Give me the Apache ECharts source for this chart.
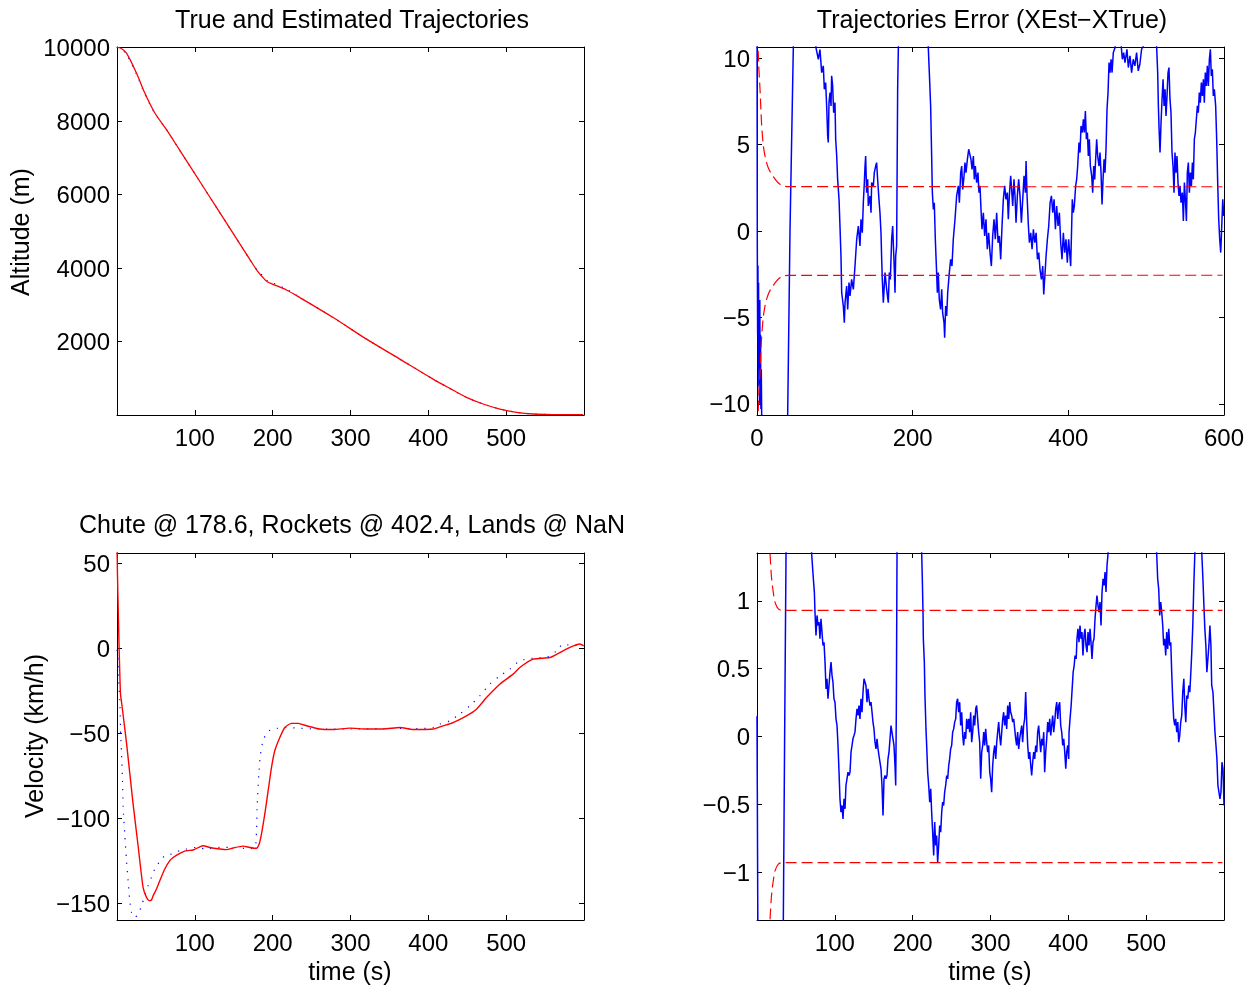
<!DOCTYPE html>
<html>
<head>
<meta charset="utf-8">
<title>Trajectory estimation</title>
<script src="https://cdn.jsdelivr.net/npm/echarts@6/dist/echarts.min.js"></script>
<style>
  html, body { margin: 0; padding: 0; background: #fff; }
  #chart { width: 1256px; height: 988px; }
</style>
</head>
<body>
<div id="chart"></div>
<script>
// ---- Altitude: true vs. estimated (m) ----
var timeAlt = [0, 5, 12.2, 25, 35.7, 48.6, 63.6, 80.7, 106.4, 127.8, 149.2, 170.6, 180, 187.7, 193, 200.6, 217.8, 234.9, 277.7, 320.6, 363.4, 406.1, 427.6, 449, 470.4, 491.8, 513.3, 534.6, 560, 599];
var altEst  = [10000, 9975, 9843, 9301, 8758, 8215, 7762, 7198, 6351, 5645, 4940, 4234, 3930, 3737, 3625, 3555, 3401, 3194, 2651, 2063, 1520, 977, 724, 480, 299, 163, 73, 27, 12, 8];
var altTrue = [10000, 9970, 9815, 9270, 8730, 8205, 7760, 7196, 6351, 5645, 4940, 4234, 3935, 3780, 3660, 3590, 3420, 3200, 2651, 2063, 1520, 977, 724, 480, 299, 163, 73, 27, 12, 8];

// ---- Velocity: estimated (solid) and true (dotted), km/h ----
var timeVelEst = [0, 0.6, 1.5, 2.3, 2.7, 3.6, 4.5, 6.2, 7.9, 12.4, 20.7, 27.1, 33.5, 37.9, 41.3, 44.3, 46.4, 50.7, 55, 61.4, 67.8, 72.1, 80.7, 89.3, 97.8, 106.4, 110.7, 119.2, 132.1, 140.7, 149.2, 162, 170.6, 179.2, 182.6, 185.6, 189.9, 194.2, 198.5, 202.7, 209.2, 215.6, 224.2, 232.8, 243.5, 260.6, 277.7, 299.1, 320.6, 341.9, 363.4, 380.4, 406.1, 419, 431.8, 449, 461.9, 474.7, 491.8, 508.9, 517.5, 534.6, 556.1, 568.9, 581.8, 594.6, 599.7];
var velEst = [62, 43.5, 23.9, 8.2, 0.4, -15.3, -27, -33, -39.5, -56.5, -91.8, -116.3, -140.8, -146.7, -148.6, -148.2, -145.7, -141.8, -136.9, -130, -125.1, -123.2, -120.8, -119.2, -118.8, -116.9, -116.3, -117.3, -118.2, -118.6, -117.6, -116.5, -117.3, -117.8, -115.3, -109.4, -97.6, -83.9, -70.2, -60.4, -52.6, -46.7, -44.3, -44.3, -45.7, -47.6, -47.9, -47.1, -47.6, -47.6, -46.7, -47.9, -47.6, -45.7, -43.8, -39.8, -35.9, -29.1, -21.2, -15.3, -11.4, -6.5, -5.5, -2.6, 0.4, 2.4, 1.4];
var timeVelTrue = [0, 1.5, 2.3, 3.6, 4.5, 5.8, 7.1, 7.9, 10, 12.2, 14.3, 16.4, 18.6, 22.9, 27.1, 31.5, 35.7, 40, 44.3, 48.6, 55, 61.4, 70, 80.7, 89.3, 102.1, 115, 132.1, 149.2, 166.4, 177, 179.2, 180, 182.2, 184.4, 187.7, 194.2, 204.9, 217.8, 234.9, 256.3, 299.1, 341.9, 384.8, 406.1, 414.7, 427.6, 440.4, 453.3, 466.1, 479, 491.8, 504.7, 517.5, 534.6, 551.8, 564.7, 573.2, 586, 599.7];
var velTrue = [-1, -7.5, -19.2, -31, -46.7, -62.4, -78, -93.8, -109.4, -125.1, -136.9, -148.6, -155.5, -158.5, -156.5, -151.6, -145.7, -139.8, -134.9, -130, -125.5, -122.2, -121.2, -119.2, -118.2, -117.3, -118.2, -117.3, -117.3, -117.9, -117.3, -107.5, -93.8, -74.1, -62.4, -54.5, -49, -47.3, -46.7, -47.1, -47.6, -47.6, -47.3, -47.3, -46.7, -44.7, -42.8, -38.8, -33.9, -28.1, -21.2, -16.3, -12.4, -7.5, -5.9, -5.5, -1.6, 2.4, 1.4, 2.4];

// ---- Position error (XEst - XTrue) and its sigma bound ----
var posErrT = [0, 0.4, 0.8, 1.2, 1.6, 2.0, 2.4, 2.8, 3.2, 3.6, 4.0, 4.5, 5.0, 5.5, 6.0, 6.8, 20, 35, 39.4, 42.4, 46.7, 50, 65, 74,
  75.8, 78.8, 80.9, 83.1, 85.2, 86.5, 88.2, 89.5, 90.8, 91.6, 92.5, 93.8, 95.1, 95.9, 97.2, 98.5, 100.2, 101.1, 102.4, 103.6, 105.4, 106.6, 107.9, 108.8, 110.9, 112.2, 113.1, 115.2, 116.5, 118.2, 119.5, 121.6, 123.8, 125.9, 128.1, 130.2, 132.3, 133.6, 135.3, 136.6, 137.9, 138.8, 139.6, 140.9, 142.2, 143, 145.2, 146.5, 147.3, 149.5, 150.7, 152.5, 153.7, 155, 156.7, 158, 159.3, 160.2, 161, 162.3, 164.5, 166.6, 168.7, 170, 171.3, 173, 174.3, 175.6, 176.4, 177.3, 178.2, 179.4, 180.7, 181.6,
  183, 200, 218,
  220.1, 221.4, 223.1, 224.4, 225.3, 226.6, 227.8, 229.1, 230.8, 231.7, 232.9, 234.2, 235.9, 237.3, 238.5, 240.3, 241.1, 242.4, 243.7, 245, 247.1, 248.8, 250.5, 252.2, 254.4, 256.5, 258.7, 260, 261.7, 263, 264.3, 266, 267.2, 268.5, 270.3, 272, 273.7, 274.9, 276.3, 278, 279.2, 280.5, 282.2, 283.9, 285.2, 286.5, 287.8, 289.1, 290.8, 292.5, 294.2, 295.9, 297.6, 299.4, 301.1, 302.8, 304.5, 306.2, 307.9, 309.7, 311.4, 313.1, 314.8, 316.5, 318.2, 319.9, 321.6, 322.9, 324.2, 325.9, 327.2, 328.5, 330.2, 331.5, 332.8, 334.5, 336.2, 337.9, 339.7, 341.4, 343.1, 344.8, 345.7, 347, 348.7, 350, 351.7, 353.4, 355.1, 356.9, 358.6, 360.3, 362, 363.6, 365.4, 367.1, 368.4, 370.1, 371.4, 373.1, 374.8, 376.6, 378.3, 380, 381.7, 383.4, 385, 386.8, 388.5, 390.2, 391.9, 393.6, 395.3, 397, 398.7, 400.4,
  401.7, 403, 404.3, 405.1, 406.4, 407.7, 409.4, 410.7, 412, 413.7, 415, 416.3, 418, 419.3, 420.6, 421.9, 423.2, 424.5, 425.7, 427, 428.3, 430, 431.3, 432.6, 433.9, 435.1, 436.4, 437.7, 439.4, 440.7, 442, 443.3, 444.6, 445.9, 447.1, 448.4, 449.7, 451, 452.3, 453.6, 454.9, 456.2, 457.8, 460, 462, 465, 467, 469.4, 471.1, 472.8, 475.3, 477.1, 479.2, 481.3, 483.4, 485.5, 487.7, 489.8, 491.9, 494.1, 496.2,
  498, 505, 511,
  513.5, 514.8, 515.7, 516.6, 517.8, 519.1, 520.4, 521.7, 523, 524.3, 525.5, 526.8, 528.1, 529.3, 530.6, 531.9, 533.2, 534.5, 535.8, 537, 538.3, 539.6, 540.9, 542.2, 543.5, 544.8, 546.5, 547.8, 549.1, 550.4, 551.7, 552.9, 554.2, 555.5, 556.8, 558.1, 559.4, 560.6, 561.9, 563.2, 564.5, 565.8, 567, 568.3, 569.6, 570.9, 572.2, 573.5, 574.7, 576, 577.3, 578.6, 579.9, 581.2, 582.5, 583.7, 585, 586.3, 587.6, 589.3, 590.6, 591.9, 593.2, 594.5, 595.8, 597.1, 598.4, 599.7];
var posErrV = [14, -1, -6, -2, -8, -3, -9, -5, -10, -4, -9.5, -6, -10.3, -8, -10.6, -13, -20, -15, -10.7, 0, 10.7, 14, 18, 12,
  10.6, 9.94, 10.5, 9.17, 9.56, 8.2, 8.59, 7.24, 5.5, 5.12, 7.43, 8.01, 7.24, 8.98, 8.4, 6.85, 7.43, 5.31, 4.34, 2.99, 1.83, 0.29, -1.45, -3.57, -4.34, -5.31, -4.15, -3.19, -4.54, -2.99, -3.76, -2.8, -3.38, -2.03, -0.48, 0.29, -0.87, 0.68, -0.1, 1.64, 2.8, 3.76, 4.34, 2.22, 2.99, 1.45, 2.03, 1.06, 2.8, 2.61, 3.38, 3.76, 3.96, 2.99, 1.83, 1.06, -0.1, -1.64, -2.8, -4.15, -2.41, -3.38, -4.15, -2.41, -2.8, -0.48, 0.29, -1.25, -2.22, -3.57, -1.45, -0.87, 8.2, 10.6,
  14, 20, 13,
  10.6, 9.17, 7.24, 4.34, 2.22, 1.25, 1.64, -0.48, -2.41, -3.57, -2.41, -3.96, -4.54, -3.38, -4.73, -5.31, -6.18, -4.34, -4.92, -3.57, -2.41, -1.64, -2.03, -0.48, 0.68, 2.03, 2.61, 1.64, 3.38, 3.76, 2.41, 3.19, 3.96, 3.38, 4.15, 4.73, 4.83, 4.15, 3.57, 4.34, 2.99, 3.76, 2.8, 3.38, 2.22, 2.61, 1.25, 0.1, 1.06, -0.29, 0.68, -1.06, -0.1, -1.25, -2.03, -0.29, 0.68, -0.48, 1.06, -0.68, -0.29, -1.64, 0.29, 1.83, 2.61, 1.83, 2.22, 0.68, 2.03, 3.19, 2.41, 1.45, 2.99, 2.03, 0.48, 2.03, 2.99, 2.03, 0.48, 1.83, 3.19, 2.22, 4.05, 2.03, 0.29, -0.68, -0.1, -1.06, 0.1, -0.68, -0.1, -1.64, -1.25, -2.22, -2.8, -2.03, -3.67, -2.41, -1.45, -0.48, 0.29, 1.64, 2.03, 1.06, 1.83, 0.1, 1.45, 0.29, 1.06, -0.68, -1.64, -0.1, -1.25, -0.48, -1.83, -0.48,
  -0.48, -2.03, 0.29, 1.83, 1.06, 1.45, 2.61, 2.99, 3.76, 5.12, 4.54, 6.08, 5.7, 6.47, 5.7, 6.95, 5.31, 5.7, 4.34, 5.31, 3.76, 3.19, 2.22, 3.76, 2.99, 4.15, 5.31, 4.34, 3.76, 4.54, 3.38, 1.54, 2.99, 4.15, 3.38, 4.73, 7.05, 8.01, 9.75, 9.17, 9.94, 9.17, 10.33, 10.6, 11.5, 10.9, 11.2, 9.94, 10.33, 9.75, 10.52, 9.46, 10.14, 9.17, 9.94, 9.56, 10.33, 9.27, 9.65, 10.52, 10.7,
  12, 15, 12,
  10.6, 9.17, 7.24, 5.89, 4.54, 6.27, 7.63, 8.78, 7.24, 8.2, 6.66, 7.82, 9.17, 9.46, 7.63, 6.85, 4.54, 3.76, 2.22, 4.54, 3.38, 4.34, 2.8, 2.03, 2.61, 1.64, 2.22, 0.58, 2.8, 1.83, 0.58, 3.38, 3.96, 2.22, 3.38, 2.61, 3.96, 2.99, 5.31, 5.7, 6.47, 7.24, 6.85, 8.01, 7.43, 8.59, 7.82, 8.78, 7.43, 9.17, 8.4, 9.56, 8.4, 9.94, 10.52, 8.98, 9.36, 7.82, 8.2, 7.24, 5.31, 2.8, 0.68, -0.48, -1.25, 0.29, 1.83, 0.87];
var posSigT = [0, 1, 2, 3, 4, 5, 6, 7, 8, 10, 12, 15, 18, 21, 25, 29, 34, 40, 598];
var posSigV = [16, 11.5, 9.8, 8.9, 8.1, 7.0, 6.1, 5.5, 5.0, 4.4, 4.0, 3.6, 3.35, 3.15, 2.9, 2.72, 2.6, 2.57, 2.56];

// ---- Velocity error and its sigma bound ----
var velErrT = [0, 0.4, 0.8, 1.2, 10, 25, 32, 33.8, 35.5, 37.3, 39, 55, 68,
  70.2, 72.4, 73.7, 74.5, 75.8, 77.1, 78.4, 79.7, 80.9, 82.2, 83.5, 84.8, 86.1, 87.4, 88.7, 89.9, 91.2, 92.5, 93.8, 95.1, 96.4, 97.6, 98.9, 100.2, 101.5, 102.8, 104.1, 105.4, 106.6, 107.9, 109.2, 110.5, 111.8, 113.1, 114.3, 115.6, 116.9, 118.2, 119.5, 120.8, 122.1, 123.3, 124.6, 125.9, 127.2, 128.5, 129.8, 131, 132.3, 133.6, 134.9, 136.2, 137.5, 138.8, 140, 141.3, 142.6, 143.9, 145.2, 146.5, 147.8, 149, 150.3, 151.6, 152.9, 154.2, 155.5, 156.7, 158, 159.3, 160.6, 161.9, 163.2, 164.5, 165.7, 167, 168.3, 169.6, 170.9, 172.2, 173.4, 174.7, 176, 177.3, 178.2, 179, 179.9,
  181, 195, 210,
  211.6, 212.4, 213.3, 213.7, 215, 215.8, 217.1, 218, 219.3, 220.6, 221.9, 223.2, 224.4, 225.7, 227, 228.3, 229.6, 230.8, 232.1, 233.4, 234.7, 236, 237.3, 238.5, 239.8, 241.1, 242.4, 243.7, 245, 246.3, 247.5, 248.8, 250.1, 251.4, 252.7, 254, 255.3, 256.5, 257.8, 259.1, 260.4, 261.7, 263, 264.3, 265.5, 266.8, 268.1, 269.4, 270.7, 272, 273.2, 274.5, 275.8, 277.1, 278.4, 279.7, 281, 282.2, 283.5, 284.8, 286.1, 287.4, 288.7, 290, 291.3, 292.5, 293.8, 295.1, 296.4, 297.7, 299, 300.2, 301.5, 302.8, 304.1, 305.4, 306.7, 308, 309.2, 310.5, 311.8, 313.1, 314.4, 315.7, 316.9, 318.2, 319.5, 320.8, 322.1, 323.4, 324.7, 325.9, 327.2, 328.5, 329.8, 331.1, 332.4, 333.6, 334.9, 336.2, 337.5, 338.8, 340.1, 341.3, 342.6, 343.9, 345.2, 346.5, 347.8, 349.1, 350.4, 351.7, 352.9, 354.2, 355.5, 356.8, 358.1, 359.4, 360.6, 361.9, 363.2, 364.5, 365.8, 367.1, 368.4, 369.6, 370.9, 372.2, 373.5, 374.8, 376.1, 377.4, 378.6, 379.9, 381.2, 382.5, 383.8, 385.1, 386.4, 387.7, 388.9, 390.2, 391.5, 392.8, 394.1, 395.4, 396.7, 397.9, 399.2, 400.5,
  400.9, 402.2, 403.6, 404.9, 406.2, 407.5, 408.6, 410.1, 411.1, 412.3, 413.7, 415, 416.3, 417.5, 418.8, 420.2, 421.4, 422.7, 424, 425.3, 426.6, 427.9, 429.1, 430.4, 431.7, 433, 434.3, 435.6, 436.8, 438.1, 439.4, 440.7, 442, 443.3, 444.6, 445.9, 447.2, 448.4, 449.7, 451,
  455, 480, 505, 511,
  513.5, 514.8, 516.1, 517.4, 518.7, 520, 521.3, 522.5, 523.8, 525.1, 526.4, 527.7, 529, 530.3, 531.6, 532.8, 534.1, 535.4, 536.7, 538, 539.3, 540.6, 541.8, 543.1, 544.4, 545.7, 547, 548.4, 549.6, 550.9, 552.2, 553.5, 554.8, 556.1, 557.4, 558.6, 559.9, 561.2, 562.5,
  565, 569,
  571.5, 572.9, 574.2, 575.4, 576.7, 578, 579.3, 580.6, 581.9, 583.2, 584.2, 585.8, 587.1, 588.4, 589.7, 590.9, 592.2, 593.5, 594.8, 596.1, 597.4, 598.7, 600];
var velErrV = [0.15, -0.4, -1.0, -1.6, -4, -3, -1.6, -1.37, 0, 1.35, 1.8, 3, 1.6,
  1.346, 1.162, 1.064, 0.916, 0.744, 0.892, 0.818, 0.843, 0.72, 0.867, 0.769, 0.671, 0.695, 0.548, 0.351, 0.425, 0.278, 0.376, 0.474, 0.548, 0.45, 0.4, 0.278, 0.253, 0.13, 0.081, -0.066, -0.263, -0.459, -0.558, -0.508, -0.607, -0.459, -0.533, -0.361, -0.312, -0.263, -0.287, -0.263, -0.115, -0.066, -0.017, 0.007, 0.032, 0.13, 0.204, 0.155, 0.228, 0.13, 0.278, 0.179, 0.327, 0.425, 0.4, 0.376, 0.253, 0.351, 0.278, 0.228, 0.253, 0.179, 0.106, 0.056, -0.042, -0.091, -0.017, -0.091, -0.14, -0.189, -0.238, -0.361, -0.582, -0.312, -0.287, -0.312, -0.287, -0.165, -0.115, -0.017, 0.081, 0.032, -0.017, -0.066, -0.214, -0.361, 0.179, 1.346,
  1.7, 3, 1.6,
  1.346, 1.162, 0.916, 0.72, 0.548, 0.302, 0.056, -0.066, -0.263, -0.361, -0.484, -0.386, -0.558, -0.705, -0.877, -0.631, -0.803, -0.73, -0.926, -0.803, -0.656, -0.705, -0.558, -0.484, -0.508, -0.41, -0.361, -0.287, -0.312, -0.214, -0.165, -0.091, -0.066, 0.032, 0.056, 0.106, 0.13, 0.253, 0.278, 0.179, 0.253, 0.081, 0.179, 0.007, -0.066, 0.032, -0.017, 0.13, 0.056, 0.13, 0.032, 0.179, -0.042, 0.032, 0.155, 0.081, 0.204, 0.228, 0.13, 0.032, -0.042, -0.312, -0.115, -0.066, 0.032, -0.066, 0.056, -0.042, -0.115, -0.066, -0.263, -0.312, -0.41, -0.214, -0.115, -0.066, -0.165, -0.042, 0.032, 0.106, 0.007, -0.066, 0.032, 0.13, 0.179, 0.081, 0.155, 0.056, 0.228, 0.13, 0.253, 0.179, 0.155, 0.106, 0.13, 0.056, -0.017, -0.066, 0.032, -0.091, -0.017, 0.032, 0.081, -0.042, 0.081, 0.13, 0.327, 0.106, -0.066, -0.165, -0.115, -0.214, -0.287, -0.189, -0.115, -0.165, -0.066, -0.115, 0.032, 0.081, -0.017, -0.115, -0.017, -0.066, 0.032, -0.263, -0.115, -0.017, 0.106, 0.032, 0.13, 0.007, 0.081, 0.155, 0.032, 0.106, 0.204, 0.253, 0.13, 0.228, 0.253, 0.081, 0.032, -0.066, -0.017, -0.115, -0.238, -0.115, -0.066, -0.165,
  0.032, 0.13, 0.228, 0.351, 0.474, 0.523, 0.597, 0.572, 0.72, 0.793, 0.695, 0.818, 0.72, 0.769, 0.597, 0.744, 0.793, 0.671, 0.621, 0.769, 0.671, 0.793, 0.695, 0.572, 0.695, 0.72, 0.867, 0.965, 1.039, 0.965, 0.916, 0.99, 0.818, 1.064, 1.162, 1.113, 1.211, 1.064, 1.26, 1.346,
  1.8, 2.6, 2.2, 1.6,
  1.346, 1.162, 1.088, 0.892, 0.99, 0.916, 0.818, 0.671, 0.72, 0.597, 0.769, 0.645, 0.793, 0.671, 0.695, 0.474, 0.278, 0.13, 0.081, 0.13, 0.032, 0.106, -0.042, 0.007, 0.106, 0.155, 0.327, 0.425, 0.228, 0.106, 0.302, 0.278, 0.376, 0.327, 0.474, 0.621, 0.818, 1.113, 1.346,
  1.6, 1.6,
  1.346, 1.162, 0.965, 0.793, 0.671, 0.474, 0.572, 0.671, 0.818, 0.671, 0.376, 0.327, 0.179, 0.032, -0.066, -0.165, -0.361, -0.41, -0.459, -0.41, -0.189, -0.238, -0.508];
var velSigT = [0, 5, 10, 14, 16.7, 18.8, 21, 23.1, 27.4, 33.8, 40, 598];
var velSigV = [5, 3, 2, 1.6, 1.35, 1.16, 1.06, 0.99, 0.94, 0.929, 0.93, 0.93];

// ---- Tick marks / labels ----
var altTicks = [2000, 4000, 6000, 8000, 10000];
var velTicks = [-150, -100, -50, 0, 50];
var posErrTicks = [-10, -5, 0, 5, 10];
var velErrTicks = [-1, -0.5, 0, 0.5, 1];
var timeTicks = [100, 200, 300, 400, 500];
var errTimeTicks = [0, 200, 400, 600];

var FONT = "'Liberation Sans', Arial, Helvetica, sans-serif";
var FS = 24;      // tick labels
var FS_T = 25;    // titles and axis names
var BLUE = '#0000ff', RED = '#ff0000';

function zip(t, v) { return t.map(function (x, i) { return [x, v[i]]; }); }
function neg(v) { return v.map(function (x) { return -x; }); }
function fmt(v) { return String(v).replace('-', '\u2212'); }
function fmtY(v) { return '{y|' + fmt(v) + '}'; }

var grids = [
  { left: 117, top: 47, width: 467, height: 368 },
  { left: 757, top: 47, width: 467, height: 368 },
  { left: 117, top: 553, width: 467, height: 367 },
  { left: 757, top: 553, width: 467, height: 367 }
];

var xAxes = [], yAxes = [];
function addAxes(g, xr, xt, yr, yt) {
  var line = { show: true, onZero: false, lineStyle: { color: '#000', width: 1 } };
  var tick = function (vals) { return { show: true, inside: true, length: 5, customValues: vals, lineStyle: { color: '#000', width: 1 } }; };
  xAxes.push({ gridIndex: g, type: 'value', min: xr[0], max: xr[1], position: 'bottom',
    axisLine: line, axisTick: tick(xt), splitLine: { show: false },
    axisLabel: { customValues: xt, formatter: fmt, color: '#000', fontSize: FS, fontFamily: FONT, margin: 12 } });
  xAxes.push({ gridIndex: g, type: 'value', min: xr[0], max: xr[1], position: 'top',
    axisLine: line, axisTick: tick(xt), splitLine: { show: false }, axisLabel: { show: false } });
  yAxes.push({ gridIndex: g, type: 'value', min: yr[0], max: yr[1], position: 'left',
    axisLine: line, axisTick: tick(yt), splitLine: { show: false },
    axisLabel: { customValues: yt, formatter: fmtY, color: '#000', fontSize: FS, fontFamily: FONT, margin: 7,
      rich: { y: { fontSize: FS, fontFamily: FONT, color: '#000', padding: [4, 0, 0, 0] } } } });
  yAxes.push({ gridIndex: g, type: 'value', min: yr[0], max: yr[1], position: 'right',
    axisLine: line, axisTick: tick(yt), splitLine: { show: false }, axisLabel: { show: false } });
}
addAxes(0, [0, 600], timeTicks, [0, 10010], altTicks);
addAxes(1, [0, 600], errTimeTicks, [-10.65, 10.65], posErrTicks);
addAxes(2, [0, 600], timeTicks, [-160, 56], velTicks);
addAxes(3, [0, 600], timeTicks, [-1.352, 1.352], velErrTicks);

function line(g, data, color, extra) {
  var s = { type: 'line', xAxisIndex: 2 * g, yAxisIndex: 2 * g, data: data,
    showSymbol: false, symbol: 'none', clip: true, silent: true, animation: false,
    lineStyle: { color: color, width: 1.2 } };
  for (var k in extra) {
    if (k === 'lineStyle') { for (var j in extra.lineStyle) s.lineStyle[j] = extra.lineStyle[j]; }
    else s[k] = extra[k];
  }
  return s;
}

var dotted = { lineStyle: { type: [1.2, 7], width: 1.2 }, smooth: 0.25 };
var dashed = { lineStyle: { type: [11, 5], width: 1.2 }, smooth: 0.3 };
var noisy = { lineStyle: { width: 1.5 } };

var series = [
  line(0, zip(timeAlt, altTrue), BLUE, dotted),
  line(0, zip(timeAlt, altEst), RED, { smooth: 0.3, lineStyle: { width: 1.3 } }),
  line(1, zip(posErrT, posErrV), BLUE, noisy),
  line(1, zip(posSigT, posSigV), RED, dashed),
  line(1, zip(posSigT, neg(posSigV)), RED, dashed),
  line(2, zip(timeVelTrue, velTrue), BLUE, dotted),
  line(2, zip(timeVelEst, velEst), RED, { smooth: 0.2, lineStyle: { width: 1.4 } }),
  line(3, zip(velErrT, velErrV), BLUE, noisy),
  line(3, zip(velSigT, velSigV), RED, dashed),
  line(3, zip(velSigT, neg(velSigV)), RED, dashed)
];

function txt(x, y, s, rot) {
  return { type: 'text', x: x, y: y, rotation: rot || 0, silent: true,
    style: { text: s, fill: '#000', font: FS_T + 'px ' + FONT, align: 'center', verticalAlign: 'middle' } };
}

var option = {
  backgroundColor: '#ffffff',
  animation: false,
  grid: grids,
  xAxis: xAxes,
  yAxis: yAxes,
  series: series,
  graphic: [
    txt(352, 21, 'True and Estimated Trajectories'),
    txt(992, 21, 'Trajectories Error (XEst\u2212XTrue)'),
    txt(352, 526, 'Chute @ 178.6, Rockets @ 402.4, Lands @ NaN'),
    txt(22, 232, 'Altitude (m)', Math.PI / 2),
    txt(36, 736, 'Velocity (km/h)', Math.PI / 2),
    txt(350, 973, 'time (s)'),
    txt(990, 973, 'time (s)')
  ]
};

var chart = echarts.init(document.getElementById('chart'), null, { renderer: 'canvas' });
chart.setOption(option);
</script>
</body>
</html>
